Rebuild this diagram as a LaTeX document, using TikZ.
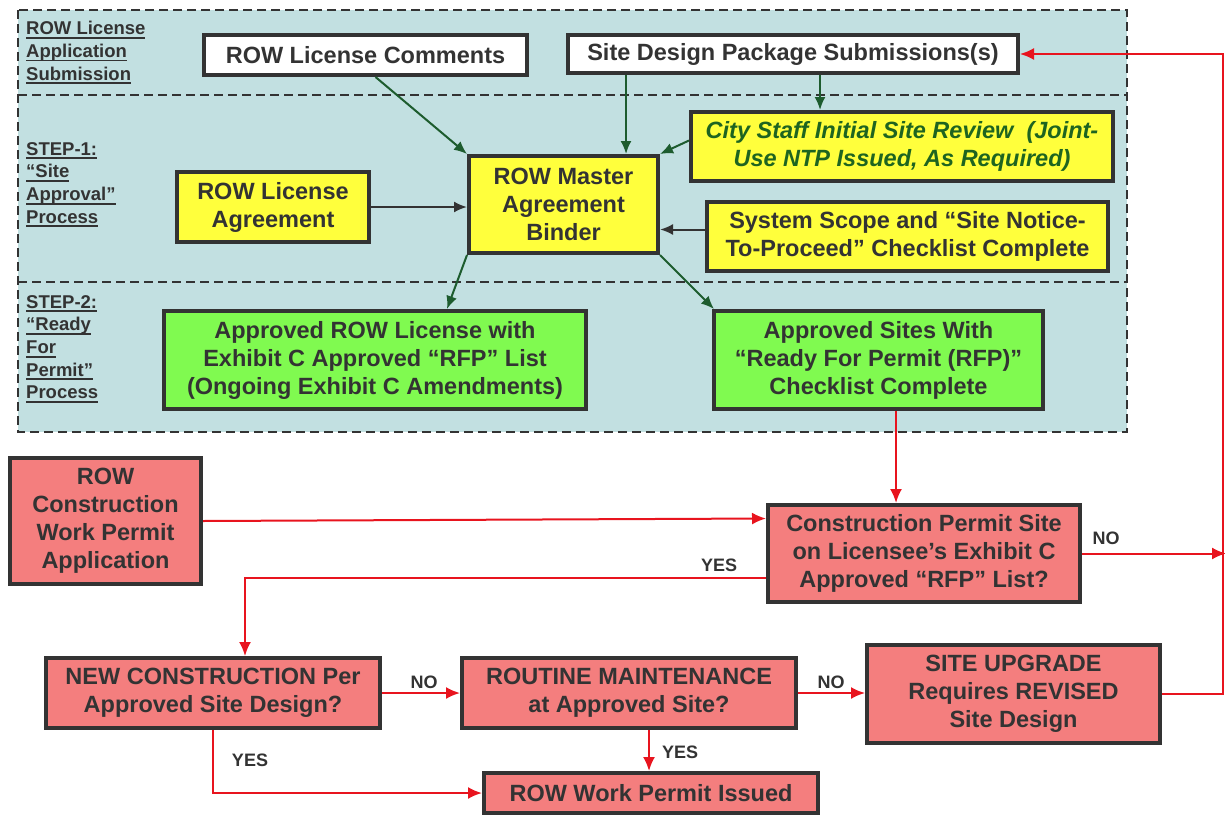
\documentclass[tikz,border=0pt]{standalone}
\usepackage{fontspec}
\setmainfont{Liberation Sans}
\usepackage{tikz}
\usetikzlibrary{arrows.meta}
\usepackage{xcolor}
\definecolor{bandfill}{HTML}{C2E0E1}
\definecolor{edge}{HTML}{333333}
\definecolor{boxyellow}{HTML}{FFFF3C}
\definecolor{boxgreen}{HTML}{80FA50}
\definecolor{boxred}{HTML}{F47E7E}
\definecolor{linkgreen}{HTML}{1D5C2E}
\definecolor{linkred}{HTML}{E8141E}
\definecolor{staffgreen}{HTML}{1E6420}
\newcommand{\bandul}[1]{\setbox0\hbox{#1}\rlap{\rule[-4pt]{\wd0}{1.8pt}}\box0}

\begin{document}
\begin{tikzpicture}[x=1pt,y=-1pt,
  box/.style={draw=edge,line width=4pt,text=edge,align=center,inner sep=0pt,
    font=\fontsize{23.5}{28}\selectfont\bfseries},
  wbox/.style={box,fill=white},
  ybox/.style={box,fill=boxyellow},
  gbox/.style={box,fill=boxgreen},
  rbox/.style={box,fill=boxred},
  band/.style={text=edge,align=left,anchor=north west,inner sep=0pt,
    font=\fontsize{18.5}{22.7}\selectfont\bfseries},
  tag/.style={text=edge,inner sep=0pt,font=\fontsize{18}{20}\selectfont\bfseries},
  garrow/.style={draw=linkgreen,line width=2pt,-{Latex[length=13pt,width=11pt]}},
  darrow/.style={draw=edge,line width=2pt,-{Latex[length=13pt,width=11pt]}},
  rarrow/.style={draw=linkred,line width=2pt,-{Latex[length=14pt,width=12pt]}},
  sep/.style={draw=edge,line width=2.5pt,dash pattern=on 9pt off 5pt}]

\useasboundingbox (0,0) rectangle (1225,816);
\fill[bandfill] (18,10) rectangle (1127,432);
\draw[sep] (18,10) rectangle (1127,432);
\draw[sep] (18,95) -- (1127,95);
\draw[sep] (18,282) -- (1127,282);

\node[band] (bandA) at (26,21) {\bandul{ROW License}\\\bandul{Application}\\\bandul{Submission}};
\node[band] (bandB) at (26,142) {\bandul{STEP-1:}\\\bandul{“Site}\\\bandul{Approval”}\\\bandul{Process}};
\node[band] (bandC) at (26,295) {\bandul{STEP-2:}\\\bandul{“Ready}\\\bandul{For}\\\bandul{Permit”}\\\bandul{Process}};

\node[wbox,minimum width=323,minimum height=40] (comments) at (365.5,55) {ROW License Comments};
\node[wbox,minimum width=450,minimum height=38] (sitepkg) at (793,54) {Site Design Package Submissions(s)};
\node[ybox,minimum width=422,minimum height=69,text=staffgreen,font=\fontsize{23.5}{28}\selectfont\bfseries\itshape]
  (citystaff) at (902,146.5) {City Staff Initial Site Review~~(Joint-\\Use NTP Issued, As Required)};
\node[ybox,minimum width=189,minimum height=97] (binder) at (563.5,204.5) {ROW Master\\Agreement\\Binder};
\node[ybox,minimum width=192,minimum height=70] (licagree) at (273,207) {ROW License\\Agreement};
\node[ybox,minimum width=401,minimum height=69] (scope) at (907.5,236.5) {System Scope and “Site Notice-\\To-Proceed” Checklist Complete};
\node[gbox,minimum width=422,minimum height=98] (apprlic) at (375,360) {Approved ROW License with\\Exhibit C Approved “RFP” List\\(Ongoing Exhibit C Amendments)};
\node[gbox,minimum width=329,minimum height=98] (apprsites) at (878.5,360) {Approved Sites With\\“Ready For Permit (RFP)”\\Checklist Complete};

\node[rbox,minimum width=191,minimum height=126] (constrapp) at (105.5,521) {ROW\\Construction\\Work Permit\\Application};
\node[rbox,minimum width=312,minimum height=97] (permitsite) at (924,553.5) {Construction Permit Site\\on Licensee’s Exhibit C\\Approved “RFP” List?};
\node[rbox,minimum width=334,minimum height=70] (newcon) at (213,693) {NEW CONSTRUCTION Per\\Approved Site Design?};
\node[rbox,minimum width=334,minimum height=70] (routine) at (629,693) {ROUTINE MAINTENANCE\\at Approved Site?};
\node[rbox,minimum width=293,minimum height=98] (upgrade) at (1013.5,694) {SITE UPGRADE\\Requires REVISED\\Site Design};
\node[rbox,minimum width=334,minimum height=40] (issued) at (651,793) {ROW Work Permit Issued};

\node[tag] (yesA) at (719,565) {YES};
\node[tag] (noA) at (1106,538) {NO};
\node[tag] (noB) at (424,682) {NO};
\node[tag] (noC) at (831,682) {NO};
\node[tag] (yesB) at (680,752) {YES};
\node[tag] (yesC) at (250,760) {YES};

\coordinate (noend) at (1226,553.5);
\coordinate (loopx) at (1223,0);

\draw[garrow] ([xshift=10pt]comments.south) -- (binder.north west);
\draw[garrow] (sitepkg.south -| 626,0) -- (binder.north -| 626,0);
\draw[garrow] (sitepkg.south -| 820,0) -- (citystaff.north -| 820,0);
\draw[garrow] ([yshift=6pt]citystaff.west) -- (binder.north east);
\draw[darrow] (licagree.east) -- (licagree.east -| binder.west);
\draw[darrow] ([yshift=7pt]scope.west) -- ([yshift=7pt]scope.west -| binder.east);
\draw[garrow] (binder.south west) -- (apprlic.north -| 447,0);
\draw[garrow] (binder.south east) -- ([xshift=2pt]apprsites.north west);

\draw[rarrow] (apprsites.south -| 896,0) -- (permitsite.north -| 896,0);
\draw[rarrow] (constrapp.east) -- ([yshift=35pt]permitsite.west);
\draw[rarrow] ([yshift=-24.5pt]permitsite.west) -| ([xshift=32pt]newcon.north);
\draw[rarrow] (permitsite.east) -- (noend);
\draw[rarrow] (newcon.east) -- (routine.west);
\draw[rarrow] (routine.east) -- (routine.east -| upgrade.west);
\draw[rarrow] ([xshift=20pt]routine.south) -- ([xshift=-2pt]issued.north);
\draw[rarrow] (newcon.south) |- (issued.west);
\draw[rarrow] (upgrade.east) -- (upgrade.east -| loopx) |- (sitepkg.east);
\end{tikzpicture}
\end{document}
